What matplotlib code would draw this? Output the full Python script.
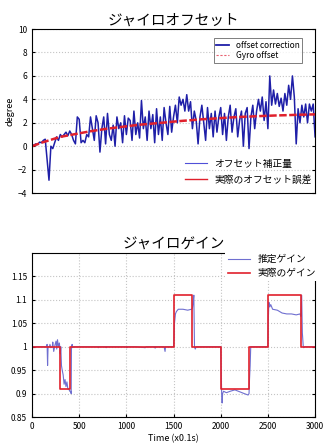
import numpy as np
import matplotlib
matplotlib.use("Agg")
from matplotlib import pyplot as plt

plt.rcParams['font.family'] = ['Liberation Sans Narrow', 'Noto Sans CJK JP', 'DejaVu Sans']

# top chart: gyro offset (degree), sampled uniformly over 0..3000
offset_est = [0.0, 0.1, 0.2, 0.15, 0.35, 0.3, 0.5, 0.6, -1.2, -2.9, 0.0, -0.2, 0.3, 0.8, 0.5,
              1.0, 0.8, 1.0, 1.2, 0.9, 1.3, 1.0, 0.5, 0.2, 2.5, 2.3, 0.3, 0.5, 0.3, 1.0,
              0.8, 2.5, 1.5, 0.5, 2.6, 2.0, -0.5, 1.5, 2.5, 0.2, 2.8, 1.0, 0.5, 1.8, 0.0,
              2.5, 1.5, 2.0, 0.3, 2.6, 1.0, 2.4, 2.2, 0.5, 3.0, 1.0, 2.0, 0.7, 3.9, 1.5,
              2.5, 0.5, 3.0, 1.5, 2.7, 0.3, 3.2, 1.0, 2.5, 0.5, 3.3, 2.0, 1.0, 3.4, 1.2,
              2.5, 3.5, 2.0, 4.2, 3.5, 4.0, 3.0, 4.4, 3.0, 3.8, 1.5, 3.0, 2.2, 0.2, 2.5,
              3.5, 2.0, 0.5, 3.3, 1.5, 2.8, 0.8, 3.0, 1.2, 2.5, 3.3, 1.0, 2.8, 0.5, 2.5,
              3.5, 1.2, 2.5, 3.2, 0.8, 2.2, 3.0, 0.0, 2.8, 3.3, -0.2, 2.5, 3.5, 1.5, 3.0,
              4.0, 3.0, 4.2, 2.2, 3.8, 1.5, 6.0, 3.5, 4.8, 3.6, 4.5, 3.4, 4.1, 3.0, 4.5,
              3.5, 5.2, 4.0, 6.0, 4.2, 0.2, 3.2, 2.0, 3.5, 2.5, 3.6, 2.0, 3.6, 3.0, 3.6, 0.8]
offset_true = [0.0, 0.3, 0.55, 0.8, 0.95, 1.1, 1.25, 1.38, 1.5, 1.6, 1.7, 1.8, 1.88, 1.95, 2.02,
               2.1, 2.17, 2.23, 2.3, 2.35, 2.4, 2.45, 2.5, 2.53, 2.57, 2.6, 2.63, 2.65, 2.68, 2.7, 2.72]

# bottom chart: gyro gain
gain_true_t = [0, 300, 400, 1500, 1700, 2000, 2300, 2500, 2850, 3000]
gain_true = [1.0, 0.91, 1.0, 1.11, 1.0, 0.91, 1.0, 1.11, 1.0, 1.0]

gain_est_t = [0, 150, 160, 165, 170, 185, 190, 200, 215, 220, 230, 245, 255, 262, 270, 280, 290,
              300, 305, 312, 320, 330, 340, 350, 360, 370, 380, 390, 400, 410, 415, 418, 425, 430,
              440, 450, 700, 705, 710, 780, 785, 790, 1000, 1005, 1010, 1100, 1200, 1210, 1300,
              1305, 1310, 1400, 1410, 1415, 1500, 1505, 1510, 1520, 1530, 1550, 1600, 1650, 1690,
              1700, 1710, 1715, 1722, 1730, 1740, 2000, 2005, 2010, 2015, 2020, 2030, 2060, 2100,
              2150, 2200, 2250, 2290, 2300, 2305, 2312, 2318, 2330, 2500, 2505, 2510, 2520, 2530,
              2550, 2600, 2650, 2700, 2750, 2800, 2840, 2850, 2858, 2865, 2875, 2880, 2890, 3000]
gain_est = [1.0, 1.0, 1.005, 0.96, 1.0, 1.0, 1.005, 0.998, 1.0, 1.01, 0.99, 1.005, 1.012, 0.995,
            1.015, 1.0, 1.008, 0.985, 1.0, 0.96, 0.95, 0.94, 0.92, 0.93, 0.915, 0.925, 0.91, 0.91,
            0.905, 0.905, 0.9, 1.0, 1.005, 0.998, 1.0, 1.0, 1.0, 0.998, 1.0, 1.0, 0.998, 1.0, 1.0,
            0.998, 1.0, 1.0, 0.998, 1.0, 1.0, 0.997, 1.0, 1.0, 0.99, 1.0, 1.0, 1.02, 1.05, 1.07,
            1.075, 1.08, 1.08, 1.078, 1.08, 1.082, 1.1, 1.11, 1.0, 0.995, 1.0, 1.0, 0.95, 0.9,
            0.88, 0.9, 0.905, 0.902, 0.905, 0.908, 0.904, 0.9, 0.897, 0.9, 0.93, 0.96, 1.0, 1.0,
            1.0, 1.06, 1.095, 1.085, 1.09, 1.08, 1.078, 1.072, 1.07, 1.07, 1.068, 1.07, 1.065,
            1.11, 1.03, 1.0, 0.998, 1.0, 1.0]

blue_dark = '#1f1fa8'
blue_light = '#6f6fd0'
red = '#e0202c'
jp = ['Noto Sans CJK JP', 'DejaVu Sans']

fig = plt.figure(figsize=(3.28, 4.47), dpi=100)

# ---- top: offset
ax1 = fig.add_axes([0.0976, 0.568, 0.863, 0.367])
x1 = np.linspace(0, 3000, len(offset_est))
x2 = np.linspace(0, 3000, len(offset_true))
l1, = ax1.plot(x1, offset_est, color=blue_dark, lw=1.1)
l2, = ax1.plot(x2, offset_true, color=red, lw=1.8, ls='--', dashes=(3, 1))
ax1.set_xlim(0, 3000)
ax1.set_ylim(-4, 10)
ax1.set_yticks(range(-4, 11, 2))
ax1.set_xticks([])
ax1.yaxis.grid(True, color='#c4c4c4', ls=':', lw=0.8)
ax1.tick_params(axis='y', labelsize=6, length=2, direction='in', right=True)
ax1.set_ylabel('degree', fontsize=6.5, labelpad=2)
ax1.set_title('ジャイロオフセット', family=jp, fontsize=10.5, pad=3)

# legend handles of the matlab style legend
hl1, = ax1.plot([], [], color=blue_dark, lw=1.3)
hl2, = ax1.plot([], [], color='#e86070', lw=0.8, ls='--', dashes=(2, 1.5))
leg1 = ax1.legend([hl1, hl2], ['offset correction', 'Gyro offset'], loc='upper right',
                  fontsize=6, frameon=True, fancybox=False, edgecolor='#444444',
                  handlelength=1.6, borderpad=0.3, labelspacing=0.2, bbox_to_anchor=(0.97, 0.97))
leg1.get_frame().set_linewidth(0.6)
ax1.add_artist(leg1)
h1, = ax1.plot([], [], color='#5050d8', lw=0.8)
h2, = ax1.plot([], [], color=red, lw=1.0)
ax1.legend([h1, h2], ['オフセット補正量', '実際のオフセット誤差'], loc='lower right',
           prop={'family': jp, 'size': 7}, frameon=False, handlelength=2.2,
           labelspacing=0.6, bbox_to_anchor=(1.02, 0.0))

# ---- bottom: gain
ax2 = fig.add_axes([0.0976, 0.067, 0.863, 0.367])
g1, = ax2.plot(gain_est_t, gain_est, color=blue_light, lw=0.8)
g2, = ax2.step(gain_true_t, gain_true, where='post', color=red, lw=1.2)
ax2.set_xlim(0, 3000)
ax2.set_ylim(0.85, 1.2)
ax2.set_xticks(range(0, 3001, 500))
ax2.set_yticks([0.85, 0.9, 0.95, 1.0, 1.05, 1.1, 1.15])
ax2.set_yticklabels(['0.85', '0.9', '0.95', '1', '1.05', '1.1', '1.15'])
ax2.grid(True, color='#c4c4c4', ls=':', lw=0.8)
ax2.tick_params(labelsize=6, length=2, direction='in', right=True)
ax2.set_xlabel('Time (x0.1s)', fontsize=6.5, labelpad=2)
ax2.set_title('ジャイロゲイン', family=jp, fontsize=10.5, pad=3)
leg2 = ax2.legend([g1, g2], ['推定ゲイン', '実際のゲイン'], loc='upper right',
                  prop={'family': jp, 'size': 7}, frameon=True, fancybox=False,
                  facecolor='white', edgecolor='none', framealpha=1, handlelength=2.2,
                  borderpad=0.3, labelspacing=0.4, bbox_to_anchor=(1.03, 1.04))

fig.savefig('out.png', dpi=100)
